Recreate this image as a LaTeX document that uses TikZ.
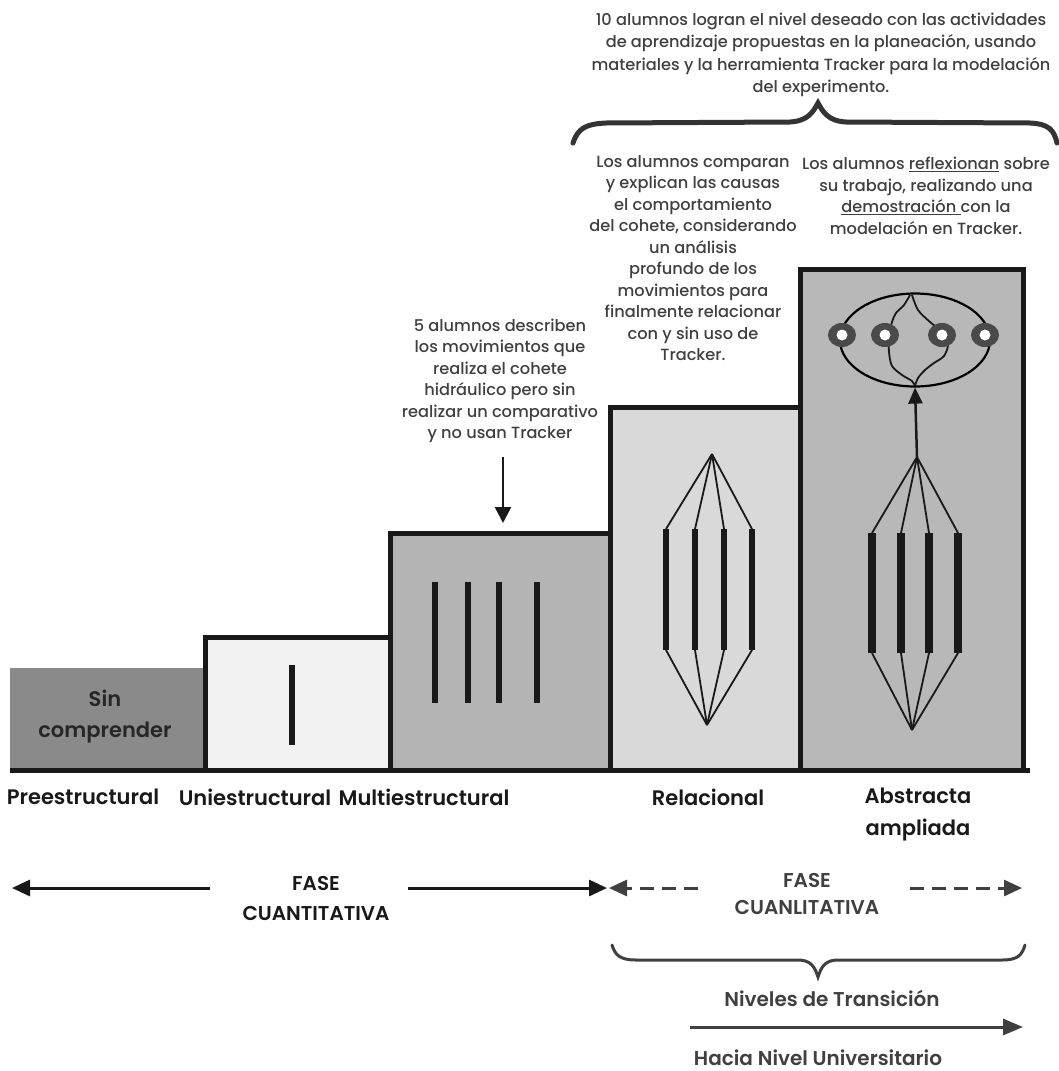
\documentclass[tikz,border=0pt]{standalone}
\usepackage{fontspec}
\setmainfont{Poppins}
\newfontfamily\medfont{Poppins Medium}
\newfontfamily\semifont{Poppins SemiBold}
\usepackage{tikz}
\usetikzlibrary{arrows.meta, positioning, calc, shapes.geometric}
\definecolor{solofill}{HTML}{8A8A8A}
\definecolor{unifill}{HTML}{F2F2F2}
\definecolor{multifill}{HTML}{B4B4B4}
\definecolor{relfill}{HTML}{D9D9D9}
\definecolor{absfill}{HTML}{B8B8B8}
\definecolor{notegray}{HTML}{404040}
\definecolor{ringgray}{HTML}{4A4A4A}

\begin{document}
\begin{tikzpicture}[
    x=1pt, y=-1pt,
    note/.style={align=center, text=notegray, font=\fontsize{16.2}{21.5}\selectfont\medfont},
    lvl/.style={align=center, text=black!90, font=\fontsize{21}{32}\selectfont\semifont},
    bar/.style={line width=6.5pt, black!90},
    fan/.style={line width=1.8pt, black!90},
    ring/.style={fill=ringgray, draw=none},
]
    \useasboundingbox[fill=white] (0,0) rectangle (1058,1071);

    % level boxes
    \fill[solofill] (10,668) rectangle (205,770);
    \fill[unifill] (205,637) rectangle (390,770);
    \fill[multifill] (390,533) rectangle (610,770);
    \fill[relfill] (610,407) rectangle (800,770);
    \fill[absfill] (800,269) rectangle (1023,770);
    \draw[line width=5pt, black!90, line join=miter]
        (205,770) -- (205,637) -- (390,637) -- (390,533) -- (610,533) -- (610,407)
        -- (800,407) -- (800,269) -- (1023,269) -- (1023,770);
    \draw[line width=5pt, black!90] (390,637) -- (390,770);
    \draw[line width=5pt, black!90] (610,533) -- (610,770);
    \draw[line width=5pt, black!90] (800,407) -- (800,770);
    \draw[line width=5pt, black!90] (10,770) -- (1030,770);

    \node[lvl, text=black!85, font=\fontsize{21}{31}\selectfont\semifont] (sin) at (105,717) {Sin\\comprender};

    % uniestructural
    \draw[bar] (292,665) -- (292,745);

    % multiestructural
    \foreach \bx in {435,468,499,537}
        \draw[bar] (\bx,582) -- (\bx,703);

    % relacional
    \coordinate (relTop) at (712,454);
    \coordinate (relBot) at (707,725);
    \foreach \bx [count=\i] in {666,695,724,752} {
        \coordinate (rb\i t) at (\bx,529);
        \coordinate (rb\i b) at (\bx,650);
        \draw[fan] (relTop) -- (rb\i t);
        \draw[fan] (rb\i b) -- (relBot);
        \draw[bar] (rb\i t) -- (rb\i b);
    }

    % abstracta ampliada
    \coordinate (absTop) at (917,457);
    \coordinate (absBot) at (912,730);
    \foreach \bx [count=\i] in {872,901,929,958} {
        \coordinate (ab\i t) at (\bx,533);
        \coordinate (ab\i b) at (\bx,653);
        \draw[fan] (absTop) -- (ab\i t);
        \draw[fan] (ab\i b) -- (absBot);
        \draw[bar, line width=7.5pt] (ab\i t) -- (ab\i b);
    }
    \node[ellipse, draw, line width=2.2pt, minimum width=150pt, minimum height=93pt, inner sep=0pt]
        (mundo) at (915,340) {};
    \draw[fan] plot[smooth] coordinates {(910,295) (904,305) (896,313) (892,322) (889,336)
        (889,352) (892,366) (902,375) (912,381) (915,386)};
    \draw[fan] plot[smooth] coordinates {(912,295) (918,310) (930,322) (942,332) (948,344)
        (944,356) (934,363) (925,370) (918,378) (915,386)};
    \foreach \cx [count=\i] in {842,885,942,985} {
        \fill[ring] (\cx,335) ellipse (14pt and 12pt);
        \fill[white] (\cx,335) circle (5.5pt);
    }
    \coordinate (stem) at (917,457);
    \draw[line width=2.5pt, black!90, -{Triangle[length=16pt, width=14pt]}]
        (stem) -- (mundo.south);

    % level names
    \node[lvl] (pre) at (83,797) {Preestructural};
    \node[lvl] (uni) at (255,797) {Uniestructural};
    \node[lvl] (multi) at (424,797) {Multiestructural};
    \node[lvl] (rel) at (708,797) {Relacional};
    \node[lvl] (abs) at (918,814) {Abstracta\\ampliada};

    % annotations
    \node[note, font=\fontsize{16.2}{22.5}\selectfont\medfont] (diez) at (821,55)
        {10 alumnos logran el nivel deseado con las actividades\\
         de aprendizaje propuestas en la planeación, usando\\
         materiales y la herramienta Tracker para la modelación\\
         del experimento.};
    \draw[line width=5pt, black!80, line cap=round]
        (573,143) .. controls (578,128) and (586,124) .. (606,123) -- (790,122)
        .. controls (808,121) and (813,112) .. (818,103)
        .. controls (823,112) and (828,121) .. (846,122) -- (1030,123)
        .. controls (1049,124) and (1054,130) .. (1057,143);

    \node[note] (compara) at (693,258)
        {Los alumnos comparan\\y explican las causas\\el comportamiento\\del cohete, considerando\\
         un análisis\\profundo de los\\movimientos para\\finalmente relacionar\\con y sin uso de\\Tracker.};
    \node[note] (reflex) at (926,196)
        {Los alumnos \underline{reflexionan} sobre\\su trabajo, realizando una\\
         \underline{demostración }con la\\modelación en Tracker.};

    \node[note] (cinco) at (500,381)
        {5 alumnos describen\\los movimientos que\\realiza el cohete\\hidráulico pero sin\\
         realizar un comparativo\\y no usan Tracker};
    \coordinate (cincoA) at (503,457);
    \coordinate (cincoB) at (503,523);
    \draw[line width=2.5pt, black!90, -{Triangle[length=16pt, width=16pt]}] (cincoA) -- (cincoB);

    % phases
    \node[lvl, font=\fontsize{20}{30}\selectfont\semifont] (cuanti) at (316,898) {FASE\\CUANTITATIVA};
    \coordinate (cuL1) at (210,888);
    \coordinate (cuL2) at (12,888);
    \coordinate (cuR1) at (408,888);
    \coordinate (cuR2) at (607,888);
    \draw[line width=3pt, black!90, -{Triangle[length=18pt, width=16pt]}] (cuL1) -- (cuL2);
    \draw[line width=3pt, black!90, -{Triangle[length=18pt, width=16pt]}] (cuR1) -- (cuR2);

    \node[lvl, text=notegray, font=\fontsize{20}{27}\selectfont\semifont] (cuali) at (807,894) {FASE\\CUANLITATIVA};
    \coordinate (caL1) at (698,888);
    \coordinate (caL2) at (609,888);
    \coordinate (caR1) at (910,888);
    \coordinate (caR2) at (1022,888);
    \draw[line width=3pt, notegray, dash pattern=on 14pt off 8pt, -{Triangle[length=18pt, width=16pt]}] (caL1) -- (caL2);
    \draw[line width=3pt, notegray, dash pattern=on 14pt off 8pt, -{Triangle[length=18pt, width=16pt]}] (caR1) -- (caR2);

    \draw[line width=3pt, notegray, line cap=round]
        (612,945) .. controls (615,955) and (620,960) .. (636,960) -- (800,960)
        .. controls (812,961) and (815,968) .. (818,977)
        .. controls (821,968) and (824,961) .. (836,960) -- (1002,960)
        .. controls (1018,960) and (1022,955) .. (1025,945);

    \node[lvl, text=notegray, font=\fontsize{20}{27}\selectfont\semifont] (transicion) at (832,998) {Niveles de Transición};
    \coordinate (haciaA) at (690,1027);
    \coordinate (haciaB) at (1023,1027);
    \draw[line width=3pt, notegray, -{Triangle[length=20pt, width=16pt]}] (haciaA) -- (haciaB);
    \node[lvl, text=notegray, font=\fontsize{20}{27}\selectfont\semifont] (hacia) at (818,1058) {Hacia Nivel Universitario};
\end{tikzpicture}
\end{document}
